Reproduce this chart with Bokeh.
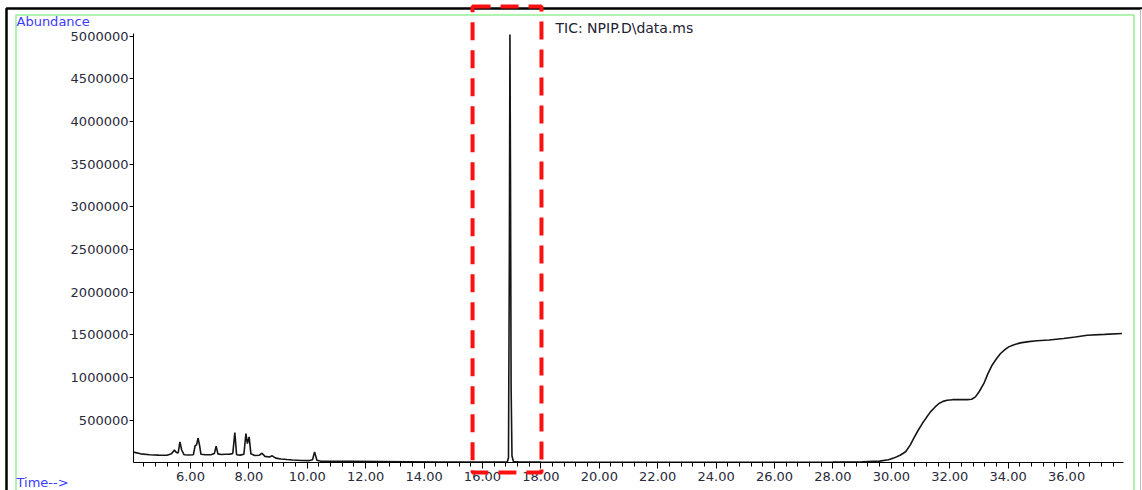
from bokeh.plotting import figure
from bokeh.models import Range1d, FixedTicker, NumeralTickFormatter, BoxAnnotation, Label
from bokeh.embed import file_html
from bokeh.resources import INLINE

# ---------------- data ----------------
time_min = [4.05, 4.3, 4.6, 4.9, 5.2, 5.35, 5.45, 5.52, 5.58, 5.64, 5.70, 5.78,
            5.95, 6.10, 6.16, 6.21, 6.26, 6.31, 6.36, 6.5, 6.7, 6.82, 6.88, 6.94,
            7.05, 7.2, 7.35, 7.45, 7.52, 7.58, 7.7, 7.83, 7.9, 7.95, 8.01, 8.07,
            8.2, 8.35, 8.45, 8.55, 8.7, 8.8, 8.92, 9.1, 9.3, 9.5, 9.8, 10.05,
            10.18, 10.25, 10.33, 10.45, 10.8, 11.5, 12.5, 13.5, 14.5, 15.5, 16.5,
            16.85, 16.89, 16.92, 16.94, 16.96, 16.98, 17.01, 17.06, 17.3, 18.0,
            20.0, 22.0, 24.0, 26.0, 28.0, 29.0, 29.6, 29.9, 30.08, 30.3, 30.49,
            30.65, 30.77, 30.9, 31.06, 31.2, 31.34, 31.5, 31.63, 31.77, 31.91,
            32.1, 32.37, 32.6, 32.75, 32.88, 33.0, 33.17, 33.3, 33.45, 33.6,
            33.74, 33.9, 34.02, 34.2, 34.42, 34.7, 34.99, 35.4, 35.9, 36.3,
            36.71, 37.3, 37.9]
abundance = [125000, 105000, 95000, 90000, 88000, 105000, 150000, 120000, 115000,
             245000, 150000, 95000, 92000, 95000, 200000, 210000, 290000, 210000,
             100000, 95000, 95000, 110000, 195000, 105000, 98000, 100000, 102000,
             110000, 355000, 95000, 90000, 100000, 343000, 225000, 304000, 105000,
             85000, 88000, 112000, 75000, 68000, 82000, 55000, 45000, 38000, 32000,
             27000, 25000, 35000, 128000, 30000, 20000, 19000, 17000, 14000, 12000,
             10000, 9000, 8000, 9000, 60000, 2400000, 5020000, 3300000, 900000,
             80000, 15000, 9000, 8000, 7000, 7000, 7000, 7000, 8000, 12000, 20000,
             35000, 55000, 88000, 130000, 210000, 290000, 370000, 460000, 530000,
             597000, 655000, 695000, 720000, 734000, 740000, 742000, 741000,
             745000, 773000, 830000, 930000, 1040000, 1144000, 1220000, 1281000,
             1330000, 1359000, 1385000, 1406000, 1420000, 1430000, 1440000,
             1457000, 1475000, 1496000, 1505000, 1516000]

x_major_ticks = [6, 8, 10, 12, 14, 16, 18, 20, 22, 24, 26, 28, 30, 32, 34, 36]
y_major_ticks = [500000, 1000000, 1500000, 2000000, 2500000, 3000000,
                 3500000, 4000000, 4500000, 5000000]
title_text = "TIC: NPIP.D\\data.ms"
y_label_text = "Abundance"
x_label_text = "Time-->"
highlight_start = 15.66
highlight_end = 18.02

# axis extent (data) and placement of the data area inside the canvas (px)
X0, X1 = 4.05, 37.95
Y0, Y1 = 0, 5036000
W, H = 1142, 490
AX_LEFT, AX_RIGHT, AX_TOP, AX_BOTTOM = 133, 1123, 32.7, 462.3

sx = (AX_RIGHT - AX_LEFT) / (X1 - X0)
sy = (AX_BOTTOM - AX_TOP) / (Y1 - Y0)
x_range = Range1d(X0 - AX_LEFT / sx, X1 + (W - AX_RIGHT) / sx)
y_range = Range1d(Y0 - (H - AX_BOTTOM) / sy, Y1 + AX_TOP / sy)

p = figure(width=W, height=H, output_backend="svg", toolbar_location=None,
           x_range=x_range, y_range=y_range,
           min_border_left=0, min_border_right=0, min_border_top=0,
           min_border_bottom=0)
p.background_fill_color = "white"
p.border_fill_color = "white"
p.outline_line_color = None
p.xgrid.grid_line_color = None
p.ygrid.grid_line_color = None

minor = [round(4.4 + 0.4 * i, 2) for i in range(84)]
p.xaxis.ticker = FixedTicker(ticks=x_major_ticks, minor_ticks=minor)
p.xaxis.formatter = NumeralTickFormatter(format="0.00")
p.yaxis.ticker = FixedTicker(ticks=y_major_ticks)
p.yaxis.formatter = NumeralTickFormatter(format="0")
p.xaxis.fixed_location = Y0
p.xaxis.bounds = (X0, X1)
p.yaxis.fixed_location = X0
p.yaxis.bounds = (Y0, Y1)

for ax in (p.xaxis, p.yaxis):
    ax.axis_line_color = "black"
    ax.axis_line_width = 1
    ax.major_tick_line_color = "black"
    ax.major_tick_in = 0
    ax.major_label_text_font = "DejaVu Sans"
    ax.major_label_text_font_size = "13px"
    ax.major_label_text_color = "#2a2a3a"
p.xaxis.major_tick_out = 6
p.xaxis.minor_tick_out = 4
p.xaxis.minor_tick_in = 0
p.xaxis.minor_tick_line_color = "black"
p.xaxis.major_label_standoff = 3
p.yaxis.major_tick_out = 4
p.yaxis.minor_tick_line_color = None
p.yaxis.major_label_standoff = 1

p.line(time_min, abundance, line_color="#151515", line_width=1.6)

# borders of the original screenshot
p.add_layout(BoxAnnotation(left=6, right=1160, top=8, bottom=520,
                           left_units="canvas", right_units="canvas",
                           top_units="canvas", bottom_units="canvas",
                           fill_alpha=0, line_color="black", line_alpha=1,
                           line_width=2.5))
p.add_layout(BoxAnnotation(left=1140, right=1170, top=9, bottom=520,
                           left_units="canvas", right_units="canvas",
                           top_units="canvas", bottom_units="canvas",
                           fill_alpha=0, line_color="#b8b8b8", line_alpha=1,
                           line_width=1))
p.add_layout(BoxAnnotation(left=15.5, right=1133.5, top=14.5, bottom=520,
                           left_units="canvas", right_units="canvas",
                           top_units="canvas", bottom_units="canvas",
                           fill_alpha=0, line_color="#96ee96", line_alpha=1,
                           line_width=1.5))
# red dashed highlight box
p.add_layout(BoxAnnotation(left=highlight_start, right=highlight_end, top=6, bottom=472,
                           left_units="data", right_units="data",
                           top_units="canvas", bottom_units="canvas",
                           fill_alpha=0, line_color="#ff1010", line_alpha=1,
                           line_width=4, line_dash="18 10"))

p.add_layout(Label(x=16, y=H - 21, x_units="screen", y_units="screen",
                   text=y_label_text, text_font="DejaVu Sans", text_font_size="13px",
                   text_color="#3b3bff", text_baseline="alphabetic"))
p.add_layout(Label(x=16, y=H - 482, x_units="screen", y_units="screen",
                   text=x_label_text, text_font="DejaVu Sans", text_font_size="13px",
                   text_color="#3b3bff", text_baseline="alphabetic"))
p.add_layout(Label(x=555, y=H - 27, x_units="screen", y_units="screen",
                   text=title_text, text_font="DejaVu Sans", text_font_size="14px",
                   text_color="#222233", text_baseline="alphabetic"))

open("out.html", "w").write(file_html(p, INLINE))
